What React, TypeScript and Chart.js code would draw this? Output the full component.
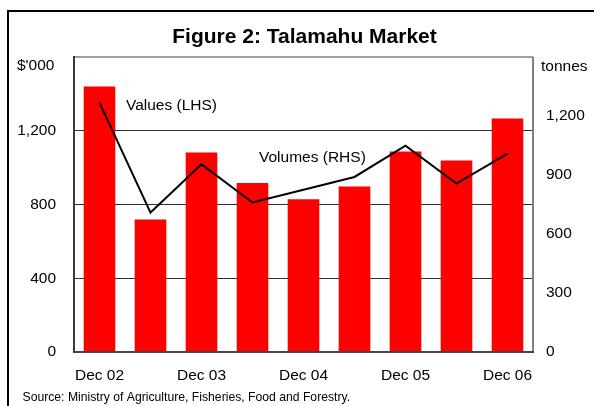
import React, { useEffect, useRef } from "react";
import { Chart, registerables } from "chart.js";

Chart.register(...registerables);

const categories = ["Dec 02", "Jun 03", "Dec 03", "Jun 04", "Dec 04", "Jun 05", "Dec 05", "Jun 06", "Dec 06"];
const valuesLHS = [1440, 719, 1082, 916, 828, 898, 1088, 1039, 1267];
const volumesRHS = [1268, 709, 954, 760, 825, 890, 1049, 856, 1009];
const leftMax = 1600;
const leftStep = 400;
const rightMax = 1500;
const rightStep = 300;

const titleText = "Figure 2: Talamahu Market";
const leftUnit = "$'000";
const rightUnit = "tonnes";
const valuesLabel = "Values (LHS)";
const volumesLabel = "Volumes (RHS)";
const sourceText = "Source: Ministry of Agriculture, Fisheries, Food and Forestry.";

const FONT = '"Liberation Sans", Arial, sans-serif';

const decorPlugin = {
  id: "decor",
  beforeDraw(chart: any) {
    const { ctx, width, height } = chart;
    ctx.save();
    ctx.fillStyle = "#ffffff";
    ctx.fillRect(0, 0, width, height);
    ctx.fillStyle = "#000000";
    ctx.fillRect(7, 10, width - 7, 2);
    ctx.fillRect(7, 10, 2, height - 10);
    ctx.restore();
  },
  afterDatasetsDraw(chart: any) {
    const { ctx, chartArea } = chart;
    const { left, right, top, bottom } = chartArea;
    ctx.save();
    ctx.lineWidth = 2;
    ctx.strokeStyle = "#a0a0a0";
    ctx.beginPath();
    ctx.moveTo(left, top);
    ctx.lineTo(right, top);
    ctx.stroke();
    ctx.strokeStyle = "#808080";
    ctx.beginPath();
    ctx.moveTo(right, top);
    ctx.lineTo(right, bottom);
    ctx.stroke();
    ctx.strokeStyle = "#3a3a3a";
    ctx.beginPath();
    ctx.moveTo(left, top - 1);
    ctx.lineTo(left, bottom + 1);
    ctx.stroke();
    ctx.strokeStyle = "#444444";
    ctx.beginPath();
    ctx.moveTo(left, bottom);
    ctx.lineTo(right + 1, bottom);
    ctx.stroke();
    ctx.restore();
  },
  afterDraw(chart: any) {
    const { ctx } = chart;
    ctx.save();
    ctx.fillStyle = "#000000";
    ctx.textBaseline = "middle";
    ctx.textAlign = "center";
    ctx.font = `bold 21px ${FONT}`;
    ctx.fillText(titleText, 304.5, 37);
    ctx.font = `15.5px ${FONT}`;
    ctx.textAlign = "left";
    ctx.fillText(leftUnit, 17, 66);
    ctx.fillText(rightUnit, 541, 67);
    ctx.fillText(valuesLabel, 126, 106);
    ctx.fillText(volumesLabel, 259, 158);
    ctx.font = `12.2px ${FONT}`;
    ctx.fillText(sourceText, 22.5, 398);
    ctx.restore();
  },
};

export default function App() {
  const canvasRef = useRef<HTMLCanvasElement | null>(null);

  useEffect(() => {
    if (!canvasRef.current) return;
    const tickFont = { family: FONT, size: 15.5 };
    const chart = new Chart(canvasRef.current, {
      type: "bar",
      data: {
        labels: categories,
        datasets: [
          {
            type: "line",
            label: volumesLabel,
            data: volumesRHS,
            yAxisID: "y1",
            borderColor: "#000000",
            borderWidth: 2,
            pointRadius: 0,
            tension: 0,
            fill: false,
            order: 0,
          } as any,
          {
            type: "bar",
            label: valuesLabel,
            data: valuesLHS,
            yAxisID: "y",
            backgroundColor: "#ff0000",
            borderWidth: 0,
            categoryPercentage: 1,
            barPercentage: 0.62,
            order: 1,
          },
        ],
      },
      options: {
        responsive: false,
        animation: false,
        devicePixelRatio: 1,
        layout: { padding: { top: 57, left: 0, right: 0, bottom: 0 } },
        plugins: {
          legend: { display: false },
          tooltip: { enabled: false },
          title: { display: false },
        },
        scales: {
          x: {
            grid: { display: false },
            border: { display: false },
            ticks: {
              autoSkip: false,
              maxRotation: 0,
              color: "#000000",
              font: tickFont,
              padding: 6,
              callback: (_v: any, i: number) => (i % 2 === 0 ? categories[i] : ""),
            },
            afterFit: (s: any) => {
              s.height = 54;
            },
          },
          y: {
            position: "left",
            min: 0,
            max: leftMax,
            grid: {
              drawTicks: false,
              color: (c: any) =>
                c.tick && (c.tick.value === 0 || c.tick.value === leftMax) ? "rgba(0,0,0,0)" : "#303030",
              lineWidth: 1,
            },
            border: { display: false },
            ticks: {
              stepSize: leftStep,
              color: "#000000",
              font: tickFont,
              padding: 18,
              callback: (v: any) => (v === leftMax ? "" : Number(v).toLocaleString("en-US")),
            },
            afterFit: (s: any) => {
              s.width = 74;
            },
          },
          y1: {
            position: "right",
            min: 0,
            max: rightMax,
            grid: { display: false, drawTicks: false },
            border: { display: false },
            ticks: {
              stepSize: rightStep,
              color: "#000000",
              font: tickFont,
              padding: 13,
              callback: (v: any) => (v === rightMax ? "" : Number(v).toLocaleString("en-US")),
            },
            afterFit: (s: any) => {
              s.width = 61;
            },
          },
        },
      },
      plugins: [decorPlugin],
    } as any);
    return () => chart.destroy();
  }, []);

  return (
    <div style={{ position: "absolute", left: 0, top: 0, width: 594, height: 406, background: "#fff" }}>
      <canvas ref={canvasRef} width={594} height={406} style={{ width: 594, height: 406, display: "block" }} />
    </div>
  );
}
